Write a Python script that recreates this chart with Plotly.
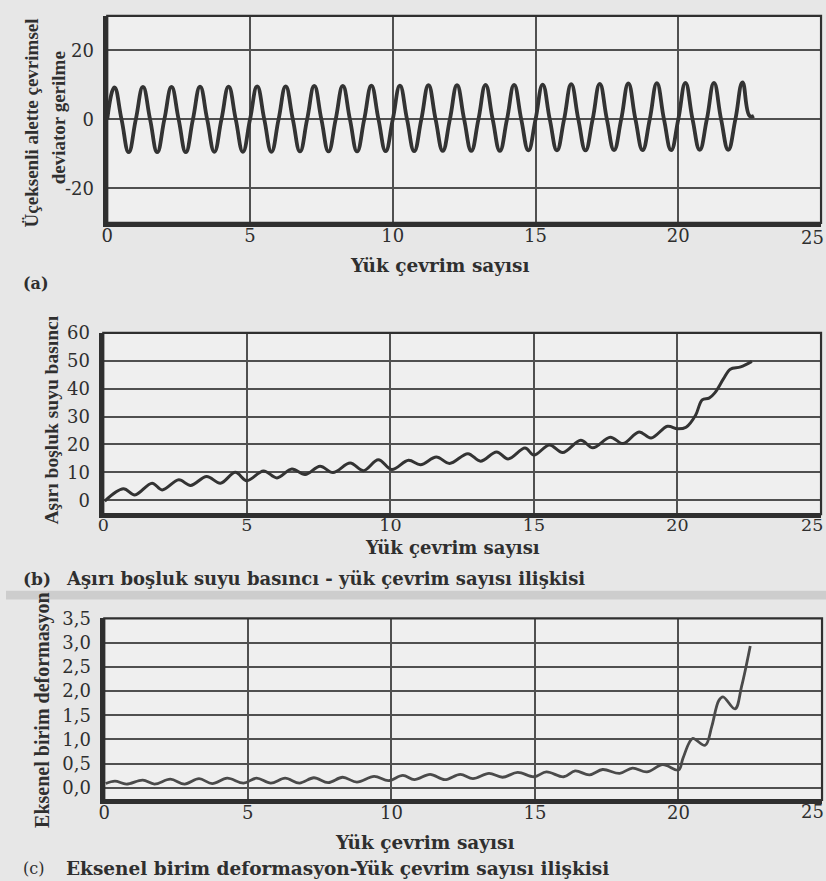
import plotly.graph_objects as go

# ---------------------------------------------------------------
# (a) Cyclic deviator stress applied in the triaxial cell
#     one peak and one trough per load cycle
# ---------------------------------------------------------------
stress_peaks = [9.3, 9.4, 9.4, 9.5, 9.5, 9.6, 9.6, 9.7, 9.7, 9.8, 9.8, 9.9,
                9.9, 10.0, 10.0, 10.1, 10.2, 10.3, 10.4, 10.5, 10.6, 10.6, 10.7]
stress_troughs = [-9.5, -9.5, -9.5, -9.4, -9.4, -9.4, -9.3, -9.3, -9.3, -9.2, -9.2,
                  -9.1, -9.1, -9.1, -9.0, -9.0, -9.0, -8.9, -8.9, -8.9, -8.8, -8.8]
stress_crossing = 0.0
stress_tail_x = [22.5, 22.65]
stress_tail_y = [1.0, 1.0]

# ---------------------------------------------------------------
# (b) Excess pore water pressure vs. number of load cycles
# ---------------------------------------------------------------
pwp_cycles = [0.05, 0.7, 1.1, 1.7, 2.05, 2.63, 3.04, 3.6, 4.08, 4.6, 5.0, 5.58,
              6.05, 6.57, 7.03, 7.55, 8.0, 8.6, 9.06, 9.58, 10.05, 10.63, 11.05,
              11.6, 12.06, 12.7, 13.14, 13.7, 14.1, 14.69, 15.0, 15.54, 16.0,
              16.63, 17.05, 17.66, 18.1, 18.66, 19.08, 19.65, 20.0, 20.3, 20.63,
              20.86, 21.1, 21.3, 21.6, 21.84, 22.2, 22.59]
pwp_values = [-0.3, 4.1, 1.9, 6.1, 3.7, 7.3, 5.3, 8.5, 6.1, 10.0, 7.0, 10.5,
              8.0, 11.2, 9.2, 12.2, 9.9, 13.3, 10.6, 14.5, 11.0, 14.3, 12.7,
              15.5, 13.2, 16.7, 14.0, 17.3, 14.8, 18.7, 16.2, 19.8, 17.1,
              21.5, 18.8, 22.6, 20.3, 24.5, 22.3, 26.5, 25.6, 26.2, 30.5,
              36.0, 36.6, 38.5, 43.5, 47.0, 47.8, 49.8]

# ---------------------------------------------------------------
# (c) Axial strain vs. number of load cycles
# ---------------------------------------------------------------
strain_cycles = [0.05, 0.37, 0.77, 1.34, 1.75, 2.3, 2.8, 3.3, 3.76, 4.28, 4.85,
                 5.3, 5.8, 6.3, 6.8, 7.3, 7.8, 8.3, 8.8, 9.4, 9.9, 10.4, 10.8,
                 11.35, 11.86, 12.4, 12.84, 13.4, 13.87, 14.4, 14.97, 15.4, 16.0,
                 16.4, 16.9, 17.36, 17.95, 18.4, 18.9, 19.45, 20.0, 20.15, 20.37,
                 20.5, 20.93, 21.16, 21.4, 21.55, 21.97, 22.2, 22.5]
strain_values = [0.09, 0.14, 0.08, 0.16, 0.08, 0.18, 0.08, 0.19, 0.09, 0.2, 0.1,
                 0.2, 0.1, 0.2, 0.1, 0.21, 0.11, 0.22, 0.12, 0.24, 0.15, 0.26, 0.17,
                 0.28, 0.17, 0.28, 0.19, 0.3, 0.22, 0.32, 0.23, 0.33, 0.23,
                 0.35, 0.27, 0.38, 0.3, 0.41, 0.33, 0.48, 0.37, 0.6, 0.93,
                 1.02, 0.88, 1.27, 1.8, 1.88, 1.63, 2.1, 2.93]

# axis ticks
cycle_ticks = [0, 5, 10, 15, 20]
stress_ticks = [-20, 0, 20]
stress_tick_text = ["-20", "0", "20"]
pwp_ticks = [0, 10, 20, 30, 40, 50, 60]
strain_ticks = [0.0, 0.5, 1.0, 1.5, 2.0, 2.5, 3.0, 3.5]
strain_tick_text = ["0,0", "0,5", "1,0", "1,5", "2,0", "2,5", "3,0", "3,5"]

XLABEL = "Yük çevrim sayısı"

# ---------------------------------------------------------------
W, H = 826, 881
INK = "#2f2f2f"
GRID = "#505050"
SERIF_W = "DejaVu Serif"
SERIF = "Liberation Serif"


def px(x):
    return x / W


def py(y):
    return 1 - y / H


# build the stress wave: crossing, peak, crossing, trough for each cycle
stress_x, stress_y = [], []
for n, pk in enumerate(stress_peaks):
    stress_x += [n, n + 0.25]
    stress_y += [stress_crossing, pk]
    if n < len(stress_troughs):
        stress_x += [n + 0.5, n + 0.75]
        stress_y += [stress_crossing, stress_troughs[n]]
stress_x += stress_tail_x
stress_y += stress_tail_y

fig = go.Figure()

fig.add_trace(go.Scatter(x=stress_x, y=stress_y, mode="lines",
                         line=dict(color="#333333", width=3.8, shape="spline",
                                   smoothing=1.3),
                         xaxis="x", yaxis="y", showlegend=False, hoverinfo="skip"))
fig.add_trace(go.Scatter(x=pwp_cycles, y=pwp_values, mode="lines",
                         line=dict(color="#333333", width=3.0, shape="spline"),
                         xaxis="x2", yaxis="y2", showlegend=False, hoverinfo="skip"))
fig.add_trace(go.Scatter(x=strain_cycles, y=strain_values, mode="lines",
                         line=dict(color="#4a4a4a", width=2.8, shape="spline"),
                         xaxis="x3", yaxis="y3", showlegend=False, hoverinfo="skip"))

tickfont = dict(family=SERIF_W, size=18, color=INK)


def xaxis_cfg(dom, anchor, standoff=-6, size=18):
    return dict(domain=dom, anchor=anchor, range=[0, 25], tickvals=cycle_ticks,
                showgrid=True, gridcolor=GRID, gridwidth=1.8, zeroline=False,
                showline=True, linecolor=INK, linewidth=3.5, ticks="",
                tickfont=dict(tickfont, size=size), ticklabelstandoff=standoff,
                fixedrange=True)


def yaxis_cfg(dom, anchor, rng, vals, text=None):
    cfg = dict(domain=dom, anchor=anchor, range=rng, tickvals=vals,
               showgrid=True, gridcolor=GRID, gridwidth=1.8, zeroline=False,
               showline=True, linecolor=INK, linewidth=3.5, ticks="",
               tickfont=tickfont, ticklabelstandoff=6, fixedrange=True)
    if text is not None:
        cfg["ticktext"] = text
    return cfg


fig.update_layout(
    width=W, height=H,
    margin=dict(l=0, r=0, t=0, b=0),
    paper_bgcolor="#e7e7e7",
    plot_bgcolor="#efefef",
    xaxis=xaxis_cfg([px(102), px(821)], "y"),
    yaxis=yaxis_cfg([py(214.5), py(5)], "x", [-30, 30], stress_ticks,
                    stress_tick_text),
    xaxis2=xaxis_cfg([px(98), px(821)], "y2", standoff=-8, size=17.5),
    yaxis2=yaxis_cfg([py(509.5), py(326)], "x2", [-5, 60], pwp_ticks),
    xaxis3=xaxis_cfg([px(99), px(822)], "y3"),
    yaxis3=yaxis_cfg([py(799), py(615)], "x3", [-0.25, 3.5], strain_ticks,
                     strain_tick_text),
)

# plot frames (top / right edges) and scan band between panels
shapes = []
for xr, yr in [("x", "y"), ("x2", "y2"), ("x3", "y3")]:
    shapes.append(dict(type="rect", xref=f"{xr} domain", yref=f"{yr} domain",
                       x0=0, x1=1, y0=0, y1=1, line=dict(color=INK, width=2.2),
                       layer="above"))
shapes.append(dict(type="rect", xref="paper", yref="paper", x0=0, x1=1,
                   y0=py(596), y1=py(587), fillcolor="#cdcdcd", line=dict(width=0),
                   layer="below"))
fig.update_layout(shapes=shapes)

annotations = []


def text(x, y, s, size, family=SERIF_W, weight="bold", angle=0, xanchor="center"):
    annotations.append(dict(x=px(x), y=py(y), xref="paper", yref="paper", text=s,
                            showarrow=False, textangle=angle, xanchor=xanchor,
                            yanchor="middle",
                            font=dict(family=family, size=size, color=INK,
                                      weight=weight)))


# "25" at the right edge of each cycle axis
text(812, 229, "25", 18, weight="normal")
text(812, 521, "25", 17.5, weight="normal")
text(812, 811, "25", 18, weight="normal")

# x-axis titles
text(437, 258, XLABEL, 18.5)
text(450, 543, XLABEL, 18)
text(422, 842, XLABEL, 18.5)

# y-axis titles
text(26, 113, "Üçeksenli alette çevrimsel", 19, family=SERIF, angle=-90)
text(53, 108, "deviator gerilme", 19, family=SERIF, angle=-90)
text(46, 414, "Aşırı boşluk suyu basıncı", 19.5, family=SERIF, angle=-90)
text(36, 708, "Eksenel birim deformasyon", 20, family=SERIF, angle=-90)

# panel captions
text(15, 276, "(a)", 16, weight="bold", xanchor="left")
text(15, 575, "(b)", 17, weight="bold", xanchor="left")
text(58, 575, "Aşırı boşluk suyu basıncı - yük çevrim sayısı ilişkisi", 18,
     xanchor="left")
text(15, 868, "(c)", 16, weight="normal", xanchor="left")
text(58, 868, "Eksenel birim deformasyon-Yük çevrim sayısı ilişkisi", 18.5,
     xanchor="left")

fig.update_layout(annotations=annotations)

fig.write_html("out.html")
